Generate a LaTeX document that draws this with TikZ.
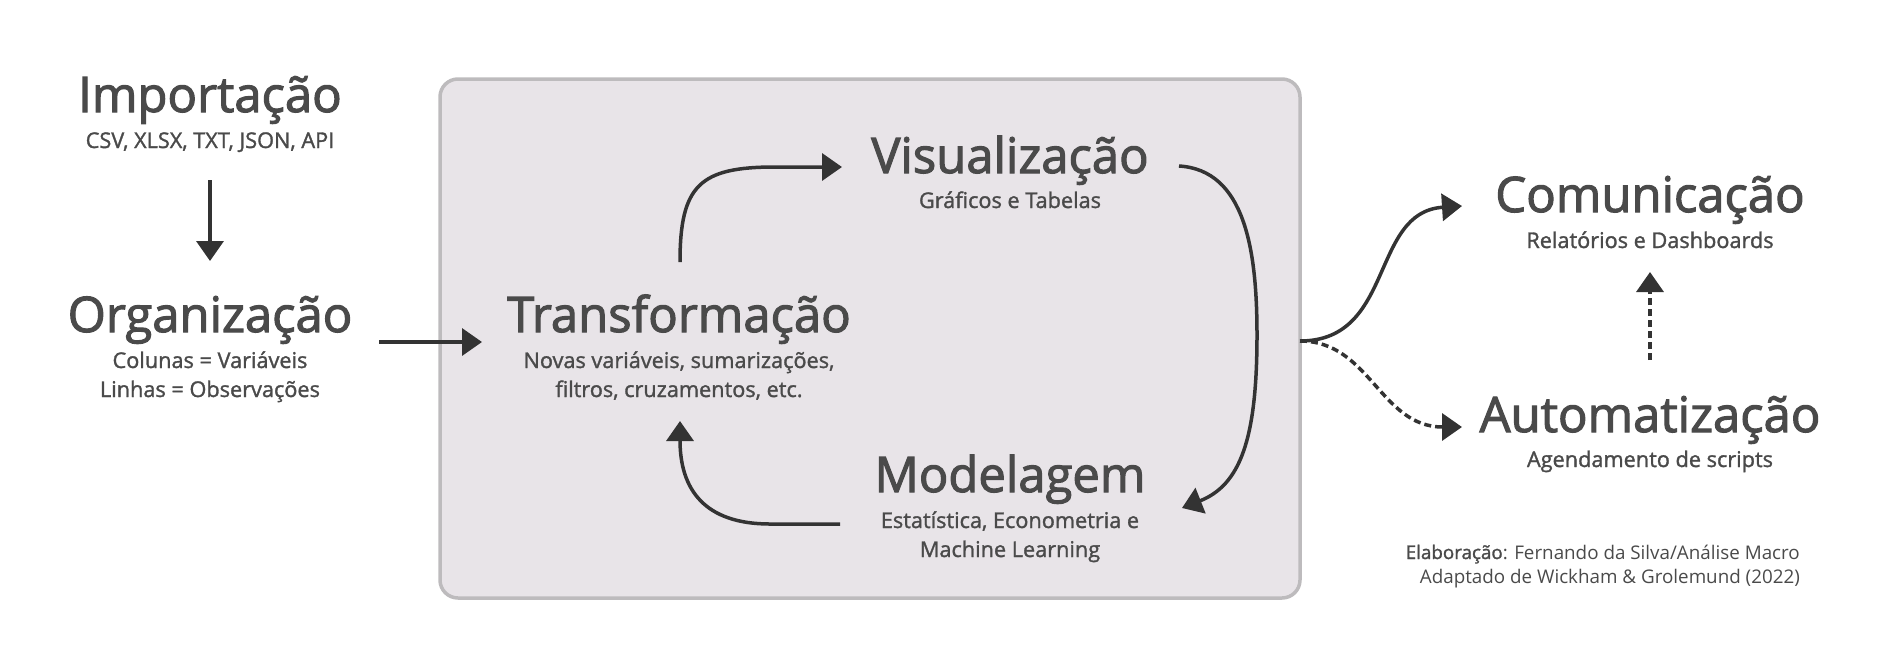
\documentclass[tikz,border=0pt]{standalone}
\usepackage{fontspec}
\setmainfont{Open Sans}
\newfontfamily\subfont[FakeBold=1.4]{Open Sans}
\newfontfamily\titfont[FakeBold=2.2]{Open Sans}
\usetikzlibrary{arrows.meta}
\definecolor{txt}{HTML}{4A4A4A}
\definecolor{arr}{HTML}{333333}
\definecolor{boxfill}{HTML}{E8E4E8}
\definecolor{boxline}{HTML}{BDBBBD}
\tikzset{
  title/.style={anchor=base, text=txt, font=\titfont\fontsize{49}{49}\selectfont, inner sep=0pt},
  sub/.style={anchor=base, text=txt, font=\subfont\fontsize{21.7}{21.7}\selectfont, inner sep=0pt},
  foot/.style={anchor=base east, text=txt, font=\fontsize{18.8}{18.8}\selectfont, inner sep=0pt},
  conn/.style={draw=arr, line width=3.5pt, -{Triangle[width=27pt,length=20pt]}},
  dconn/.style={conn, dash pattern=on 7pt off 4pt},
}
\begin{document}
\begin{tikzpicture}[x=1pt,y=-1pt]
\useasboundingbox (0,0) rectangle (1880,649);
% big box
\draw[boxline, fill=boxfill, line width=3.5pt, rounded corners=18pt] (440,79) rectangle (1300,598);

% texts
\node[title] (imp) at (210,112) {Importação};
\node[sub] (imps) at (210,148) {CSV, XLSX, TXT, JSON, API};
\node[title] (org) at (210,332) {Organização};
\node[sub] (orgs1) at (210,368) {Colunas = Variáveis};
\node[sub] (orgs2) at (210,397) {Linhas = Observações};

\node[title] (tra) at (679,332) {Transformação};
\node[sub] (tras1) at (679,368) {Novas variáveis, sumarizações,};
\node[sub] (tras2) at (679,397) {filtros, cruzamentos, etc.};

\node[title] (vis) at (1010,173) {Visualização};
\node[sub] (viss) at (1010,208) {Gráficos e Tabelas};

\node[title] (mod) at (1010,492) {Modelagem};
\node[sub] (mods1) at (1010,528) {Estatística, Econometria e};
\node[sub] (mods2) at (1010,557) {Machine Learning};

\node[title] (com) at (1650,212) {Comunicação};
\node[sub] (coms) at (1650,248) {Relatórios e Dashboards};

\node[title] (aut) at (1650,432) {Automatização};
\node[sub] (auts) at (1650,467) {Agendamento de scripts};

\node[foot] (f1) at (1800,559) {{\subfont Elaboração}: Fernando da Silva/Análise Macro};
\node[foot] (f2) at (1800,583) {Adaptado de Wickham \& Grolemund (2022)};

% connector anchor points
\coordinate (impb) at (210,180);
\coordinate (orgt) at (210,261);
\coordinate (orgr) at (379,342);
\coordinate (tral) at (482,342);
\coordinate (trat) at (680,262);
\coordinate (visl) at (842,167);
\coordinate (visr) at (1179,166);
\coordinate (modr) at (1182,508);
\coordinate (modl) at (840,524);
\coordinate (trab) at (680,421);
\coordinate (split) at (1300,341);
\coordinate (coml) at (1462,206);
\coordinate (autl) at (1462,427);
\coordinate (autt) at (1650,360);
\coordinate (comb) at (1650,272);

\draw[conn] (impb) -- (orgt);
\draw[conn] (orgr) -- (tral);
\draw[conn] (trat) .. controls (680,185) and (700,167) .. (775,167) -- (visl);
\draw[conn] (visr) .. controls (1245,170) and (1257,250) .. (1257,335) .. controls (1257,440) and (1240,485) .. (modr);
\draw[conn] (modl) -- (770,524) .. controls (705,524) and (680,490) .. (trab);
\draw[conn] (split) .. controls (1395,341) and (1370,212) .. (coml);
\draw[dconn] (split) .. controls (1370,341) and (1380,427) .. (autl);
\draw[dconn] (autt) -- (comb);
\end{tikzpicture}
\end{document}
